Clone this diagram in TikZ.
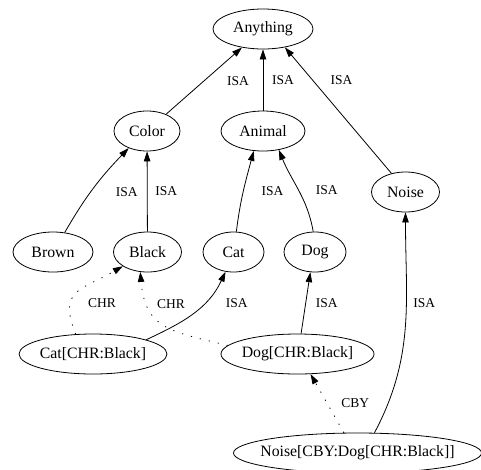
\documentclass[tikz,border=0pt]{standalone}
\usepackage{fontspec}
\setmainfont{Liberation Serif}
\usepackage{tikz}
\usetikzlibrary{positioning, shapes, arrows.meta, shapes.geometric}

\begin{document}
\begin{tikzpicture}[x=1pt, y=1pt, >={Triangle[length=10pt, width=6.5pt]}, line width=0.8pt]
    % Define the styles
    \tikzset{
        obj/.style={draw, ellipse, inner xsep=-30pt, inner ysep=0pt, minimum height=40pt, font={\fontsize{15.8}{18}\selectfont}},
        lbl/.style={font={\fontsize{13.5}{16}\selectfont}, inner sep=0pt},
        isa/.style={->},
        chr/.style={->, dash pattern=on 1.2pt off 8pt},
    }
    \useasboundingbox (0,0) rectangle (481,-469);

    % Nodes
    \node[obj, minimum width=100pt] (anything) at (263,-29) {Anything};
    \node[obj, minimum width=66pt] (color) at (147,-131) {Color};
    \node[obj, minimum width=84pt] (animal) at (263,-131) {Animal};
    \node[obj, minimum width=68pt] (noise) at (405.5,-192) {Noise};
    \node[obj, minimum width=80pt] (brown) at (53,-252) {Brown};
    \node[obj, minimum width=68pt] (black) at (147.5,-252) {Black};
    \node[obj, minimum width=61pt] (cat) at (233.5,-252) {Cat};
    \node[obj, minimum width=62pt] (dog) at (315,-252) {Dog};
    \node[obj, minimum width=148pt] (catblack) at (93,-354) {Cat[CHR:Black]};
    \node[obj, minimum width=153pt] (dogblack) at (297.5,-354) {Dog[CHR:Black]};
    \node[obj, minimum width=248pt] (noisedog) at (357.5,-453) {Noise[CBY:Dog[CHR:Black]]};

    % Arrows connecting the nodes
    \draw[isa] (color) -- (anything) node[lbl, midway, xshift=34pt] {ISA};
    \draw[isa] (animal) -- (anything) node[lbl, midway, xshift=20pt] {ISA};
    \draw[isa] (noise.127) -- (anything.-40) node[lbl, pos=0.74, xshift=29pt] {ISA};
    \draw[isa] (brown.59) to[out=60, in=-134] node[lbl, midway, xshift=33pt, yshift=-4pt] {ISA} (color.-137);
    \draw[isa] (black) -- (color) node[lbl, midway, xshift=19pt] {ISA};
    \draw[isa] (cat.82) to[out=83, in=-105] node[lbl, midway, xshift=29pt] {ISA} (animal.-115);
    \draw[isa] (dog.95) to[out=100, in=-68] node[lbl, midway, xshift=28pt] {ISA} (animal.-50);
    \draw[isa] (noisedog.50) to[out=62, in=-90] node[lbl, pos=0.6, xshift=18pt, yshift=2pt] {ISA} (noise);
    \draw[isa] (catblack.15) to[out=25, in=-115] node[lbl, pos=0.6, xshift=36pt, yshift=4pt] {ISA} (cat.-112);
    \draw[isa] (dogblack.80) -- (dog.-103) node[lbl, midway, xshift=21pt] {ISA};
    \draw[chr] (catblack.131) to[out=112, in=-150, looseness=1.5] node[lbl, pos=0.35, xshift=31pt, yshift=-2pt] {CHR} (black.-150);
    \draw[chr] (dogblack.173) to[out=166, in=-85, looseness=1.3] node[lbl, pos=0.75, xshift=23pt, yshift=2pt] {CHR} (black.-110);
    \draw[chr] (noisedog.124) -- (dogblack.-57) node[lbl, midway, xshift=28pt] {CBY};

\end{tikzpicture}
\end{document}
